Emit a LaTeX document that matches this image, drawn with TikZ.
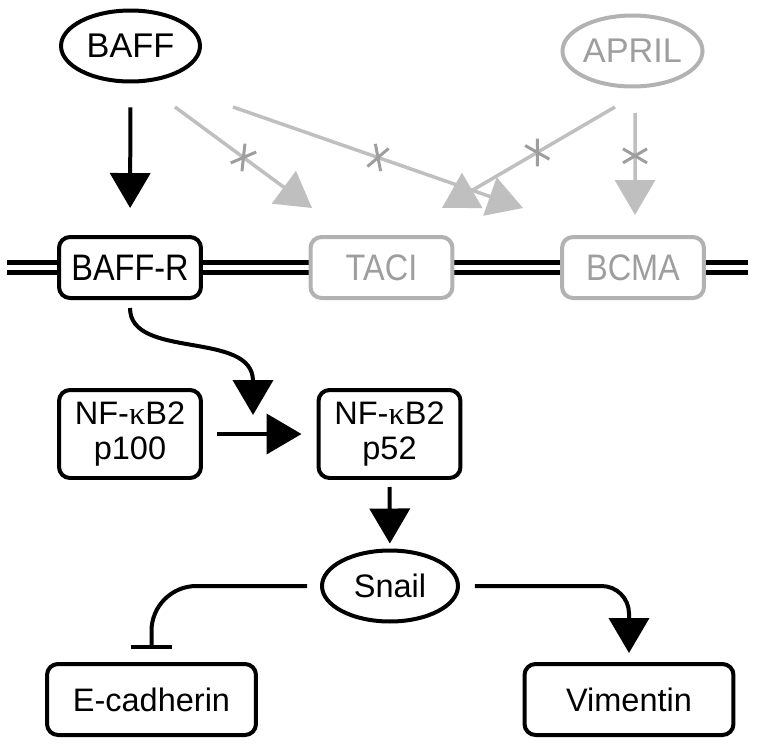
\documentclass[tikz,border=0pt]{standalone}
\usepackage{fontspec}
\setmainfont{Liberation Sans}
\newfontfamily\narrowfont[FakeStretch=0.88]{Liberation Sans}
\newfontfamily\kappafont{Liberation Serif}
\usetikzlibrary{arrows.meta}
\usetikzlibrary{shapes.geometric}
\usetikzlibrary{decorations.markings}
\definecolor{offline}{gray}{0.75}
\definecolor{offdraw}{gray}{0.70}
\definecolor{offtext}{gray}{0.62}
\definecolor{offcross}{gray}{0.62}
\tikzset{lig/.style = {draw, ellipse, line width = 0.08cm, inner sep = 0,
                       minimum width = 2.78cm, minimum height = 1.42cm,
                       font = \fontsize{19.5}{22}\selectfont}}
\tikzset{rec/.style = {draw, fill = white, rounded corners = 0.22cm, line width = 0.08cm,
                       inner sep = 0, minimum width = 2.84cm, minimum height = 1.22cm,
                       font = \narrowfont\fontsize{21}{24}\selectfont}}
\tikzset{prot/.style = {draw, fill = white, rounded corners = 0.22cm, line width = 0.08cm,
                        inner sep = 0, minimum width = 2.84cm, minimum height = 1.76cm,
                        align = center, font = \fontsize{18.5}{20}\selectfont}}
\tikzset{gene/.style = {prot, minimum width = 4.18cm, minimum height = 1.42cm}}
\tikzset{tf/.style = {lig, minimum width = 2.72cm, font = \fontsize{18.5}{20}\selectfont}}
\tikzset{off/.style = {draw = offdraw, text = offtext}}
\tikzset{act/.style = {line width = 0.08cm, -{Triangle[length = 0.7cm, width = 0.8cm]}}}
\tikzset{inh/.style = {line width = 0.08cm, -{Bar[width = 0.84cm]}}}
\tikzset{blocked/.style = {offline, line width = 0.07cm, -{Triangle[length = 0.7cm, width = 0.8cm]},
                           decoration = {markings,
                                         mark = at position #1 with {\draw [offcross, line width = 0.06cm, -]
                                                 (-7, -12) -- (7, 12) (-7, 12) -- (7, -12);}},
                           postaction = {decorate}}}

\begin{document}
\begin{tikzpicture}[x = 0.02cm, y = 0.02cm]
      \useasboundingbox (0, 0) rectangle (758, -748);
      \draw [line width = 0.09cm, double distance = 0.11cm] (7, -267.5) -- (748, -267.5);

      \node [lig] (baff) at (130.5, -46) {BAFF};
      \node [lig, off] (april) at (632.5, -51) {APRIL};
      \node [rec] (baffr) at (130, -267.5) {BAFF-R};
      \node [rec, off] (taci) at (381.5, -267.5) {TACI};
      \node [rec, off] (bcma) at (633, -267.5) {BCMA};
      \node [prot] (p100) at (130, -434) {NF-{\kappafont κ}B2\\p100};
      \node [prot] (p52) at (389.5, -434) {NF-{\kappafont κ}B2\\p52};
      \node [tf] (snail) at (390, -586) {Snail};
      \node [gene] (ecad) at (151.5, -699.5) {E-cadherin};
      \node [gene] (vim) at (629, -699.5) {Vimentin};
      \coordinate (cleave) at (253, -415);

      \draw [act, shorten <= 0.48cm, shorten >= 0.54cm] (baff) -- (baffr);
      \draw [blocked = 0.5] ([shift = {(44.5, -61)}]baff.center) -- ([shift = {(-69.5, 59.5)}]taci.center);
      \draw [blocked = 0.5] ([shift = {(102.5, -61)}]baff.center) -- ([shift = {(-110, 59.5)}]bcma.center);
      \draw [blocked = 0.45] ([shift = {(-17.5, -56)}]april.center) -- ([shift = {(60.5, 59.5)}]taci.center);
      \draw [blocked = 0.42] ([shift = {(2.5, -62)}]april.center) -- ([shift = {(2, 52.5)}]bcma.center);

      \draw [act] ([yshift = -0.16cm]baffr.south) .. controls +(0, -52) and +(0, 85) .. (cleave);
      \draw [act, shorten <= 0.28cm, shorten >= 0.3cm] (p100) -- (p52);
      \draw [act, shorten <= 0.14cm, shorten >= 0.1cm] (p52) -- (snail);
      \draw [inh, rounded corners = 0.9cm] ([xshift = -0.26cm]snail.west) -| ([yshift = 0.26cm]ecad.north);
      \draw [act, rounded corners = 0.55cm] ([xshift = 0.3cm]snail.east) -| ([yshift = 0.18cm]vim.north);
\end{tikzpicture}
\end{document}
